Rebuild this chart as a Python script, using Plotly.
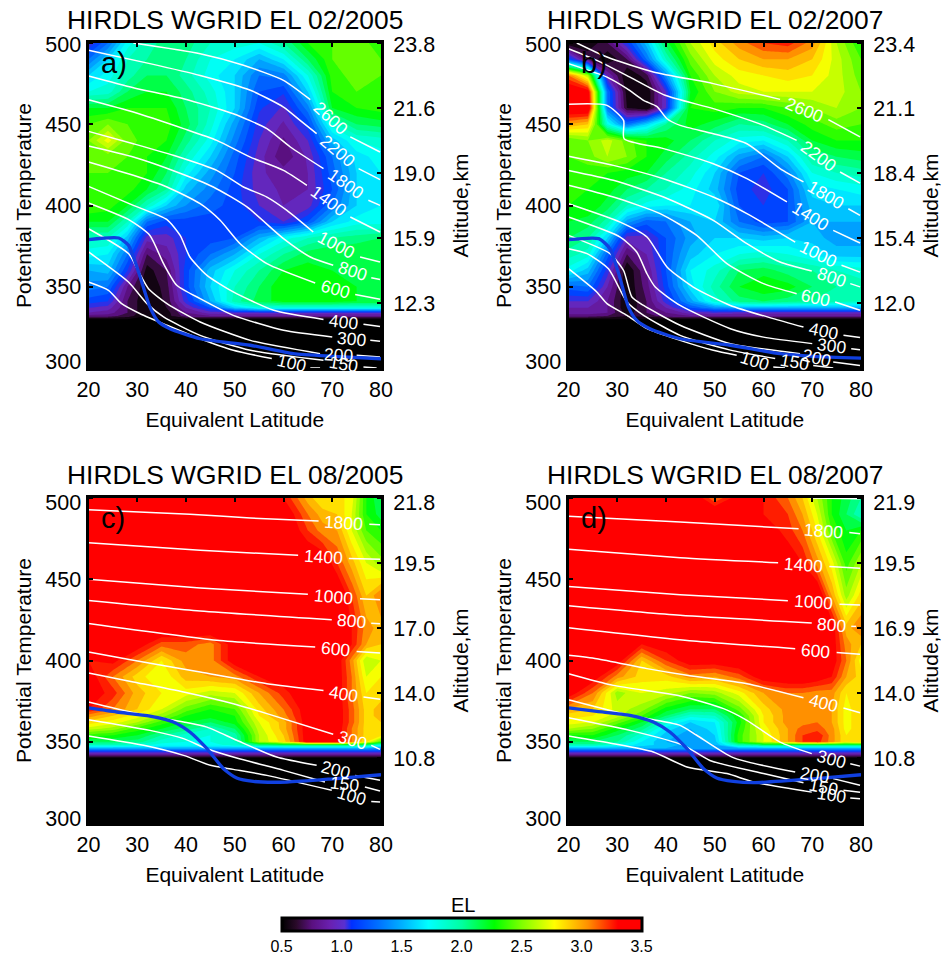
import math
import plotly.graph_objects as go

W, H = 951, 955
FONT = "Liberation Sans"

TITLES = ["HIRDLS WGRID EL 02/2005", "HIRDLS WGRID EL 02/2007", "HIRDLS WGRID EL 08/2005", "HIRDLS WGRID EL 08/2007"]
PANEL_TAGS = ["a)", "b)", "c)", "d)"]
X_TICKS = [20, 30, 40, 50, 60, 70, 80]
Y_TICKS = [300, 350, 400, 450, 500]
ALT_TICKS = [500, 460, 420, 380, 340]
ALT_LABELS = [["23.8", "21.6", "19.0", "15.9", "12.3"], ["23.4", "21.1", "18.4", "15.4", "12.0"],
              ["21.8", "19.5", "17.0", "14.0", "10.8"], ["21.9", "19.5", "16.9", "14.0", "10.8"]]

LAT_FEB = [20, 24, 28, 32, 36, 40, 45, 50, 55, 60, 65, 70, 75, 80]
TH_FEB = [300, 330, 332, 334, 337, 341, 350, 360, 370, 380, 390, 400, 410, 420, 430, 440, 450, 460, 470, 480, 490, 500]
EL_A = [
 [.3]*14,
 [.5]*14,
 [.75,.75,.65,.5,.55,.75,.8,.8,.8,.8,.8,.8,.8,.8],
 [.9,.85,.7,.5,.55,.8,.95,1.0,1.0,1.0,1.0,1.0,1.0,1.0],
 [1.0,.95,.7,.5,.6,.9,1.2,1.6,1.8,1.8,1.8,1.8,1.8,1.8],
 [1.15,1.1,.7,.5,.62,1.05,1.5,1.95,2.15,2.25,2.25,2.25,2.2,2.2],
 [1.35,1.3,.8,.5,.65,1.15,1.6,1.9,2.1,2.3,2.3,2.3,2.2,2.2],
 [1.5,1.55,1.1,.55,.7,1.15,1.55,1.8,2.0,2.2,2.25,2.2,2.2,2.2],
 [1.75,1.7,1.3,.7,.85,1.1,1.3,1.5,1.8,2.0,2.15,2.2,2.2,2.2],
 [1.9,1.9,1.55,.95,.95,1.1,1.15,1.2,1.5,1.75,1.9,2.0,2.05,2.1],
 [2.2,2.2,1.9,1.3,1.15,1.15,1.15,1.15,1.1,1.0,1.2,1.6,1.75,1.75],
 [2.4,2.35,2.2,1.9,1.6,1.4,1.25,1.15,1.0,.9,.95,1.3,1.6,1.7],
 [2.4,2.4,2.35,2.2,2.0,1.55,1.35,1.15,.95,.88,.9,1.2,1.6,1.7],
 [2.4,2.4,2.35,2.3,2.1,1.75,1.45,1.2,.92,.85,.9,1.25,1.6,1.7],
 [2.45,2.45,2.4,2.3,2.2,1.9,1.6,1.25,.95,.72,.92,1.3,1.65,1.75],
 [2.5,2.75,2.45,2.35,2.3,2.05,1.75,1.35,1.0,.78,1.0,1.55,1.8,1.85],
 [2.4,2.5,2.4,2.35,2.35,2.15,1.85,1.45,1.05,.88,1.15,1.85,2.1,2.15],
 [2.2,2.2,2.3,2.3,2.3,2.1,1.9,1.6,1.12,.98,1.35,2.2,2.3,2.35],
 [1.8,1.85,2.1,2.2,2.2,2.05,1.85,1.6,1.2,1.12,1.6,2.3,2.4,2.4],
 [1.6,1.75,1.95,2.1,2.1,1.95,1.75,1.6,1.3,1.35,1.8,2.35,2.45,2.4],
 [1.3,1.6,1.9,2.0,2.05,2.0,1.8,1.7,1.5,1.7,2.1,2.4,2.5,2.4],
 [1.0,1.3,1.75,1.95,2.05,2.05,1.9,1.85,1.8,2.0,2.3,2.4,2.45,2.35],
]
EL_B = [
 [.3]*14,
 [.5]*14,
 [.75,.75,.7,.6,.65,.75,.8,.8,.8,.8,.8,.8,.8,.8],
 [.85,.85,.8,.55,.7,.8,.95,1.0,.95,.95,.95,.95,.95,.95],
 [.9,.9,.8,.5,.7,.9,1.2,1.4,1.5,1.5,1.5,1.5,1.5,1.5],
 [1.0,1.0,.8,.5,.7,1.05,1.45,1.85,2.05,2.1,2.05,2.0,1.95,1.9],
 [1.25,1.3,.9,.5,.75,1.15,1.65,1.95,2.2,2.3,2.25,2.1,2.0,1.95],
 [1.75,1.55,1.05,.5,.8,1.2,1.7,1.85,2.1,2.15,2.05,2.0,1.9,1.85],
 [1.95,1.85,1.25,.7,.9,1.2,1.55,1.7,1.8,1.85,1.8,1.7,1.55,1.55],
 [2.1,2.0,1.6,.95,.95,1.2,1.45,1.6,1.6,1.55,1.6,1.55,1.45,1.45],
 [2.2,2.15,1.95,1.45,1.25,1.3,1.5,1.6,1.3,1.15,1.2,1.5,1.5,1.5],
 [2.3,2.3,2.15,1.9,1.75,1.7,1.7,1.7,1.2,1.1,1.2,1.55,1.6,1.6],
 [2.35,2.3,2.25,2.1,2.0,1.9,1.75,1.55,1.15,1.05,1.2,1.65,1.7,1.75],
 [2.35,2.35,2.3,2.25,2.2,2.0,1.85,1.6,1.2,1.1,1.35,1.8,1.9,1.95],
 [2.4,2.45,2.6,2.5,2.3,2.15,1.95,1.75,1.45,1.3,1.6,2.0,2.1,2.15],
 [2.4,2.5,2.65,2.45,2.3,2.25,2.1,1.9,1.75,1.7,1.9,2.2,2.3,2.3],
 [3.0,2.9,1.8,1.3,1.6,2.0,2.25,2.15,2.0,2.05,2.2,2.35,2.45,2.4],
 [3.5,3.5,1.3,.6,.5,1.0,2.3,2.35,2.3,2.3,2.4,2.5,2.6,2.5],
 [3.5,3.4,1.3,.55,.5,1.0,2.2,2.5,2.65,2.7,2.7,2.7,2.65,2.5],
 [3.1,2.6,.9,.5,.65,1.4,2.3,2.6,2.75,2.8,2.85,2.8,2.65,2.45],
 [1.2,.7,.5,.7,1.3,1.9,2.45,2.75,2.9,3.0,3.0,2.9,2.65,2.4],
 [.5,.5,.7,1.1,1.55,2.15,2.6,2.85,3.05,3.2,3.25,3.05,2.6,2.3],
]

LAT_AUG = [20, 25, 30, 35, 40, 45, 50, 55, 60, 65, 68, 71, 74, 77, 80]
TH_AUG = [300, 340, 342, 344, 346, 348, 350, 354, 358, 362, 366, 370, 380, 390, 400, 410, 420, 440, 460, 480, 490, 500]
EL_C = [
 [.3]*15,
 [.5]*15,
 [.8]*15,
 [1.1]*15,
 [1.5]*14+[1.4],
 [1.9,1.9,1.85,1.75,1.75,1.75,1.85,2.05,2.1,2.1,2.1,2.1,2.1,2.05,1.8],
 [2.1,2.1,2.05,1.85,1.8,1.8,1.9,2.6,2.85,3.4,3.4,3.4,3.1,2.8,2.4],
 [2.35,2.3,2.2,2.0,1.85,1.8,1.95,2.6,2.9,3.4,3.4,3.4,3.1,2.85,2.85],
 [2.65,2.55,2.35,2.2,2.05,1.9,2.1,2.65,2.95,3.4,3.4,3.4,3.1,2.85,2.9],
 [2.85,2.75,2.6,2.35,2.2,2.1,2.25,2.7,2.95,3.4,3.4,3.4,3.15,2.85,2.9],
 [3.05,2.9,2.75,2.55,2.3,2.25,2.3,2.8,3.05,3.4,3.4,3.4,3.15,2.85,2.95],
 [3.3,3.1,2.9,2.7,2.45,2.3,2.4,2.85,3.1,3.4,3.4,3.4,3.15,2.85,2.95],
 [3.4,3.25,2.95,2.8,2.75,2.65,2.7,3.0,3.25,3.45,3.4,3.4,3.1,2.8,2.85],
 [3.4,3.1,2.85,2.7,2.95,3.0,3.05,3.3,3.4,3.45,3.45,3.4,3.1,2.7,2.8],
 [3.3,3.35,3.1,2.8,3.05,3.05,3.4,3.45,3.45,3.45,3.45,3.4,3.05,2.6,2.7],
 [3.45,3.4,3.4,3.15,3.15,3.05,3.4,3.45,3.45,3.45,3.45,3.4,3.3,3.0,2.9],
 [3.5,3.5,3.5,3.5,3.5,3.5,3.5,3.5,3.5,3.5,3.5,3.5,3.3,3.05,2.95],
 [3.5,3.5,3.5,3.5,3.5,3.5,3.5,3.5,3.5,3.5,3.5,3.5,3.2,2.9,3.1],
 [3.5,3.5,3.5,3.5,3.5,3.5,3.5,3.5,3.5,3.5,3.45,3.2,2.95,2.7,2.55],
 [3.5,3.5,3.5,3.5,3.5,3.5,3.5,3.5,3.5,3.2,3.05,3.0,2.7,2.4,2.3],
 [3.5,3.5,3.5,3.5,3.5,3.5,3.5,3.5,3.45,3.1,2.95,2.9,2.7,2.3,2.15],
 [3.5,3.5,3.5,3.5,3.5,3.5,3.5,3.5,3.3,2.95,2.8,2.85,2.75,2.3,2.1],
]
EL_D = [
 [.3]*15,
 [.5]*15,
 [.8]*15,
 [1.1]*15,
 [1.5]*15,
 [1.95,1.95,1.8,1.65,1.55,1.45,1.5,1.95,2.1,2.1,2.1,2.1,2.1,2.1,2.1],
 [2.1,2.1,2.0,1.7,1.5,1.4,1.55,2.35,2.7,3.0,3.2,3.25,3.05,2.8,2.9],
 [2.3,2.3,2.1,1.85,1.55,1.45,1.6,2.35,2.7,3.0,3.2,3.3,3.05,2.8,2.9],
 [2.6,2.5,2.25,2.05,1.65,1.5,1.65,2.3,2.75,3.0,3.15,3.15,3.05,2.75,2.9],
 [2.75,2.7,2.45,2.2,1.85,1.6,1.7,2.25,2.8,3.05,3.05,3.1,3.0,2.75,2.9],
 [2.85,2.8,2.65,2.4,2.1,1.85,1.9,2.3,2.8,3.05,3.05,3.05,3.0,2.75,2.9],
 [3.0,2.9,2.65,2.55,2.25,2.1,2.1,2.45,2.85,3.05,3.05,3.05,3.0,2.75,2.9],
 [3.4,3.1,2.55,2.7,2.65,2.5,2.55,2.75,3.0,3.1,3.1,3.05,3.05,2.8,2.9],
 [3.4,3.4,3.05,2.85,2.85,3.05,3.0,3.15,3.4,3.45,3.45,3.4,3.3,3.0,2.85],
 [3.4,3.4,3.4,2.9,3.2,3.4,3.4,3.45,3.45,3.45,3.45,3.45,3.4,3.1,2.75],
 [3.5,3.5,3.5,3.3,3.4,3.5,3.5,3.5,3.5,3.5,3.5,3.5,3.4,3.05,2.9],
 [3.5,3.5,3.5,3.5,3.5,3.5,3.5,3.5,3.5,3.5,3.5,3.5,3.4,2.95,3.1],
 [3.5,3.5,3.5,3.5,3.5,3.5,3.5,3.5,3.5,3.5,3.5,3.5,3.0,2.55,2.85],
 [3.5,3.5,3.5,3.5,3.5,3.5,3.5,3.5,3.5,3.4,3.3,3.05,2.75,2.35,2.6],
 [3.5,3.5,3.5,3.5,3.5,3.5,3.5,3.5,3.4,3.25,3.1,2.8,2.4,2.2,2.3],
 [3.5,3.5,3.5,3.5,3.5,3.5,3.5,3.4,3.3,3.2,3.0,2.7,2.3,2.1,1.9],
 [3.5,3.5,3.5,3.5,3.5,3.5,3.1,3.4,3.3,3.1,2.9,2.6,2.3,2.15,2.0],
]

# Isolines: label -> (latitudes, thetas), None marks the gap holding the label
ISO_A = {
 "2600": ([29.2,42.9,51.8,60,65.5,None,73.7,79.8], [500,493.4,486.3,477,465.1,None,442.2,432.9]),
 "2200": ([20,32.6,42.9,53.2,60,63.4,66.8,None,75.4,79.8], [495.5,487.3,480,470.9,460.6,452.4,444.2,None,422.7,415.9]),
 "1800": ([20,29.2,39.5,49.7,56.6,61.4,68.2,None,77.4,79.8], [479.7,472.5,465.7,456.5,447.3,436,422.7,None,403.2,400.1]),
 "1400": ([20,29.2,39.5,46.3,53.2,60,64.8,None,73.7,79.8], [465.1,457.5,447.3,440.1,429.8,421.6,412.4,None,392.9,383.7]),
 "1000": ([20,29.2,37.4,46.3,51.8,56.6,60.7,66.1,None,75.7,79.8], [445.6,438,430.9,421.6,411.4,405.2,397,383.7,None,368.3,365.2]),
 "800": ([20,29.2,38.1,45.6,52.5,60,65.5,70.2,None,78,79.8], [436.6,429.8,420.6,411.4,399.1,379.6,368.3,363.2,None,355.6,354.4]),
 "600": ([20,29.2,36.1,42.9,47,51.1,56.6,66.5,None,74.7,79.8], [426.8,418.6,411.4,401.1,390.9,376.5,364.2,352.3,None,345.3,342.3]),
 "400": ([20,29.2,36.1,38.8,40.8,44.3,49.7,58,68.2,None,76.4,79.8], [411.8,400.1,391.3,381.6,368.3,357,346.8,335.5,329.9,None,326.9,325.6]),
 "300": ([20,28.5,32.6,35.4,38.1,42.9,49.7,60,70,None,77.8,79.8], [401.5,390.9,381.6,364.2,350.9,342.7,332.4,323.2,319.1,None,317,316.4]),
 "200": ([20,28.2,30.3,32.3,36.1,42.9,53.2,67.5,None,75,79.8], [385.7,370.4,359.1,348.8,339.6,328.3,317,308.8,None,307.8,306.8]),
 "150": ([20,28.2,32,35.4,42.9,53.2,68.2,None,76.4,79.1], [371.4,352.9,339.6,331.4,320.1,310.9,304.7,None,300.6,300]),
 "100": ([20,24.1,26.8,30.6,36.1,42.9,49.7,57.6,None,65.5,67.5], [352.9,347.8,339.6,333.4,326.3,318,310.9,305.8,None,300,300]),
}
ISO_B = {
 "2600": ([21.7,27.9,37.4,49.7,63.4,None,73.3,79.8], [500,491.4,482.2,475,465.3,None,452.8,442.2]),
 "2200": ([20,25.8,32.6,39.8,49.7,60,66.8,None,75.7,79.8], [496.5,489.3,479,467.8,459.6,449.3,440.1,None,420.6,413.8]),
 "1800": ([20,27.9,32,35.4,38.1,40.2,42.9,49.7,56.6,63.4,68.2,None,77.4,79.8], [487.3,479,471.9,464.7,461,453.4,449.3,444.2,438,422.7,414.5,None,398,393.9]),
 "1400": ([20,27.9,31.3,31.4,39.5,49.7,56.6,64.8,None,74.3,79.8], [462.3,461.6,452.4,441.1,435,425.7,416.5,402.2,None,384.7,376.9]),
 "1000": ([20,29.2,39.5,49.7,56.6,66.5,None,76,79.8], [430.3,424.7,416.5,405.2,395,377.5,None,363.2,359]),
 "800": ([20,29.2,39.5,49.7,56.6,63.4,69.9,None,77.8,79.8], [421.6,415.5,405.2,390.9,376.5,365.2,359.7,None,351.9,349.9]),
 "600": ([20,29.2,38.8,46.3,52.5,60,66.8,None,74.7,79.8], [412.4,405.2,395,381.6,364.2,351.9,345.7,None,340.6,335.5]),
 "400": ([20,30.6,36.1,40.2,45.6,53.2,62,68.2,None,76.4,79.8], [401.1,389.8,380.6,362.2,349.8,338.5,330.4,325.2,None,320.1,318.7]),
 "300": ([20,30.6,34,36.1,37.8,42.9,53.2,60,70,None,78,79.8], [392.9,380.6,371.4,358,349.8,338.5,324.2,319,315,None,311.9,311.3]),
 "200": ([20,28.5,31.3,33,35.4,42.9,53.2,67.5,None,74.3,79.8], [381.6,370.4,360,343.7,338.5,326.3,315,308.8,None,303.7,301.6]),
 "150": ([20,23.8,28.2,32,35.4,42.9,53.2,62.4,None,70.2,74.3], [373.4,370.4,361,340.6,332.4,320.1,311,305.8,None,301.6,300]),
 "100": ([20,25.8,27.9,32,36.1,42.9,49.7,54.5,None,62,64.4], [361.1,346.8,339.6,332.4,324.2,317,310.9,307.8,None,300.6,300]),
}
ISO_C = {
 "1800": ([20,40.8,53.2,67.2,None,77.6,79.8], [492.8,490,487.7,485.8,None,483.8,483.6]),
 "1400": ([20,42.9,63,None,73.4,79.8], [472.5,467.8,464.7,None,462.7,462.3]),
 "1000": ([20,42.9,65,None,75.7,79.8], [450,444.6,440.7,None,438,437.4]),
 "800": ([20,42.9,69.9,None,78,79.8], [437,430.5,425.1,None,423,422.6]),
 "600": ([20,46.3,66.5,None,75,79.8], [422.7,412.4,408.3,None,405.6,404.6]),
 "400": ([20,29.2,42.9,56.6,68.2,None,76.4,79.8], [405.2,400.1,392.9,385.7,381.6,None,377.5,376.1]),
 "300": ([20,29.2,39.5,49.7,56.6,70.2,None,78,79.8], [392.3,386.8,380.6,373.4,367.3,354.6,None,347.8,345.3]),
 "200": ([20,29.2,39.5,44.3,50.4,58.6,66.8,None,74.7,79.8], [374.5,367.9,362.2,359,350.9,340.6,335.5,None,329.3,326.3]),
 "150": ([20,32.6,39.5,44.3,50.4,60,68.5,None,76.7,79.8], [363.6,357,351.9,345.7,340,332.4,325.2,None,322.2,319.7]),
 "100": ([20,31.3,39.5,45,49.7,56.6,69.9,None,78,79.8], [353.5,347.8,341.6,335.5,333,329.3,320.1,None,313.3,313]),
}
ISO_D = {
 "1800": ([20,42.9,67.2,None,77.6,79.8], [488.7,485.2,481.1,None,478.7,478]),
 "1400": ([20,42.9,63,None,73.5,79.8], [468.4,463.3,460.2,None,457.9,456.7]),
 "1000": ([20,42.9,65,None,75.6,79.8], [445.6,440.5,436.8,None,434.6,434.2]),
 "800": ([20,42.9,69.9,None,78,79], [433.7,427.8,423.1,None,421,421]),
 "600": ([20,46.3,66.5,None,75,79.8], [420.2,411.8,407.3,None,405,403.8]),
 "400": ([20,25.8,36.1,44.3,56.6,68.2,None,76.4,79.8], [403.2,401.1,395,390.9,385.7,377.1,None,370.8,367.9]),
 "300": ([20,29.2,42.9,51.8,56.6,63.4,69.9,None,77.8,79.8], [391.9,384.7,378.2,370.4,363.2,349.8,342.7,None,336.5,335]),
 "200": ([20,32.6,42.9,46.3,53.8,66.5,None,74.3,79.8], [375.9,366.3,360.1,354,340.2,331.4,None,327.3,323.2]),
 "150": ([20,32.6,43.6,49,60,68.2,None,76.4,79.8], [364.8,357,347.8,338.5,330.4,324.8,None,320.1,319]),
 "100": ([20,29.2,37.4,44.3,52.5,58,69.9,None,77.8,79.8], [353.5,348.8,343.7,334.5,330.4,325.2,319,None,315.4,315]),
}
TOP_LINE_D = ([66.1, 70.2, 79.8], [502, 500, 499.6])

BLUE_A = ([20,26.2,28.2,30.6,32.6,34.4,36.7,42.9,53.2,62,70.2,80], [379,380,375.5,356,337.5,328.3,324.2,318,314,308.8,307.2,305.7])
BLUE_B = ([20,26.2,28.5,30.3,32.3,34,36.7,42.9,53.2,63.4,70.2,80], [379,379.6,373.4,358,337.5,329.3,324.2,318,314,308.8,307.2,306.1])
BLUE_C = ([20,25.8,32.6,37.4,40.8,44.3,47.7,50.4,53.8,60.7,70.2,80], [370.8,368.3,365.8,362.2,356,345.7,333.4,327.7,325.6,325.2,327.2,329.7])
BLUE_D = ([20,25.8,32.6,37.4,40.8,44.3,47.7,50.4,53.8,57.9,70.2,80], [370.8,368.7,366.3,362.2,356,345.7,333.4,327.7,325.6,324.8,327.2,329.7])

CB_TICKS = [0.5, 1.0, 1.5, 2.0, 2.5, 3.0, 3.5]
stops = [(0.5,"#000000"),(0.62,"#2a0a2a"),(0.75,"#5a1080"),(0.9,"#6a20b0"),(1.02,"#5a30d0"),(1.08,"#0030ff"),
         (1.3,"#0070ff"),(1.5,"#00b0ff"),(1.72,"#00ffff"),(2.0,"#00ffa0"),(2.27,"#00ff00"),(2.5,"#80ff00"),
         (2.77,"#ffff00"),(3.05,"#ff9000"),(3.3,"#ff0000"),(3.5,"#ff0000")]
colorscale = [[(v-0.5)/3, c] for v, c in stops]

BOX_X = [(88.5, 381), (568.5, 861)]
BOX_Y = [(43, 368), (498, 823)]
panels = [(EL_A, LAT_FEB, TH_FEB, ISO_A, BLUE_A), (EL_B, LAT_FEB, TH_FEB, ISO_B, BLUE_B),
          (EL_C, LAT_AUG, TH_AUG, ISO_C, BLUE_C), (EL_D, LAT_AUG, TH_AUG, ISO_D, BLUE_D)]

fig = go.Figure()
layout = dict(width=W, height=H, margin=dict(l=0, r=0, t=0, b=0, autoexpand=False), paper_bgcolor="white",
              plot_bgcolor="white", showlegend=False, font=dict(family=FONT, color="black"))
ann = []
tick_font = dict(family=FONT, size=21.5, color="black")
title_font = dict(family=FONT, size=21, color="black")

for i, (el, lats, ths, iso, blue) in enumerate(panels):
    col, row = i % 2, i // 2
    x0, x1 = BOX_X[col]
    y0, y1 = BOX_Y[row]
    n = i * 2 + 1
    xa, ya, ya2 = f"x{n}", f"y{n}", f"y{n+1}"
    fig.add_trace(go.Contour(x=lats, y=ths, z=el, xaxis=xa, yaxis=ya, colorscale=colorscale, zmin=.5, zmax=3.5,
                             autocontour=False, contours=dict(start=.5, end=3.5, size=.1, coloring="fill", showlines=False),
                             line=dict(width=0, smoothing=0), showscale=False, hoverinfo="skip"))
    for name, (lt, th) in iso.items():
        fig.add_trace(go.Scatter(x=lt, y=th, xaxis=xa, yaxis=ya2, mode="lines",
                                 line=dict(color="white", width=1.5, shape="spline", smoothing=0.6),
                                 connectgaps=False, cliponaxis=False, hoverinfo="skip"))
        g = lt.index(None)
        la, lb, ta, tb = lt[g-1], lt[g+1], th[g-1], th[g+1]
        px_dx = (lb-la) * (x1-x0) / 60
        px_dy = (ta-tb) * (y1-y0) / 200
        ann.append(dict(x=(la+lb)/2, y=(ta+tb)/2, xref=xa, yref=ya, text=name, showarrow=False,
                        textangle=math.degrees(math.atan2(px_dy, px_dx)), font=dict(family=FONT, size=17.5, color="white")))
    if i == 3:
        fig.add_trace(go.Scatter(x=TOP_LINE_D[0], y=TOP_LINE_D[1], xaxis=xa, yaxis=ya2, mode="lines",
                                 line=dict(color="white", width=1.5), cliponaxis=False, hoverinfo="skip"))
    fig.add_trace(go.Scatter(x=blue[0], y=blue[1], xaxis=xa, yaxis=ya2, mode="lines",
                             line=dict(color="#1040e0", width=3.3, shape="spline", smoothing=0.6), hoverinfo="skip"))

    lab_top = 498.8 if row == 0 else 497.5
    lab_bot = 303.9 if row == 0 else 303
    layout[f"xaxis{n}"] = dict(domain=[x0/W, x1/W], range=[20, 80], anchor=ya, tickvals=X_TICKS, ticks="inside", ticklen=4,
                               tickwidth=2, tickcolor="black", mirror="ticks", showline=True, linewidth=3, linecolor="black",
                               showgrid=False, zeroline=False, tickfont=tick_font, ticklabelstandoff=0,
                               title=dict(text="Equivalent Latitude", font=title_font, standoff=12))
    layout[f"yaxis{n}"] = dict(domain=[1-y1/H, 1-y0/H], range=[300, 500], anchor=xa,
                               tickvals=[lab_bot, 350, 400, 450, lab_top], ticktext=["300", "350", "400", "450", "500"],
                               ticks="", minor=dict(tickvals=Y_TICKS, ticks="inside", ticklen=4, tickwidth=2, tickcolor="black"),
                               showline=True, linewidth=3, linecolor="black", mirror=True, showgrid=False, zeroline=False,
                               tickfont=tick_font, title=dict(text="Potential Temperature", font=title_font, standoff=8))
    layout[f"yaxis{n+1}"] = dict(domain=[1-y1/H, 1-y0/H], range=[300, 500], anchor=xa, overlaying=ya, side="right",
                                 tickvals=[lab_top]+ALT_TICKS[1:], ticktext=ALT_LABELS[i], ticks="",
                                 minor=dict(tickvals=ALT_TICKS, ticks="inside", ticklen=4, tickwidth=2, tickcolor="black"),
                                 showline=True, linewidth=3, linecolor="black", showgrid=False, zeroline=False,
                                 tickfont=tick_font, ticklabelstandoff=5,
                                 title=dict(text="Altitude,km", font=title_font, standoff=20 if col == 0 else 10))
    ann.append(dict(x=(x0+x1)/2/W, y=1-(y0-23)/H, xref="paper", yref="paper", text=TITLES[i], showarrow=False,
                    font=dict(family=FONT, size=26.4, color="black"), xanchor="center", yanchor="middle"))
    ann.append(dict(x=(x0+10)/W, y=1-(y0+20)/H, xref="paper", yref="paper", text=PANEL_TAGS[i], showarrow=False,
                    font=dict(family=FONT, size=29, color="black"), xanchor="left", yanchor="middle"))

# Colour scale: a gradient bar on a heatmap kept outside the first panel's axis range
cb = dict(orientation="h", x=461.5/W, xanchor="center", y=1-918/H, yanchor="top", lenmode="pixels", len=360,
          thickness=13, thicknessmode="pixels", xpad=0, ypad=0, outlinecolor="black", outlinewidth=3,
          tickvals=CB_TICKS, ticktext=[f"{v:.1f}" for v in CB_TICKS], ticks="",
          tickfont=dict(family=FONT, size=16, color="black"))
fig.add_trace(go.Heatmap(x=[1000, 1001], y=[1000, 1001], z=[[CB_TICKS[0], CB_TICKS[-1]], [CB_TICKS[0], CB_TICKS[-1]]],
                         xaxis="x1", yaxis="y1", colorscale=colorscale, zmin=.5, zmax=3.5, colorbar=cb, hoverinfo="skip"))
ann.append(dict(x=463/W, y=1-905/H, xref="paper", yref="paper", text="EL", showarrow=False,
                font=dict(family=FONT, size=20, color="black"), xanchor="center", yanchor="middle"))

layout["annotations"] = ann
fig.update_layout(**layout)
fig.write_html("out.html", config={"displayModeBar": False},
               post_script="document.body.style.margin='0';document.body.style.overflow='hidden';")
